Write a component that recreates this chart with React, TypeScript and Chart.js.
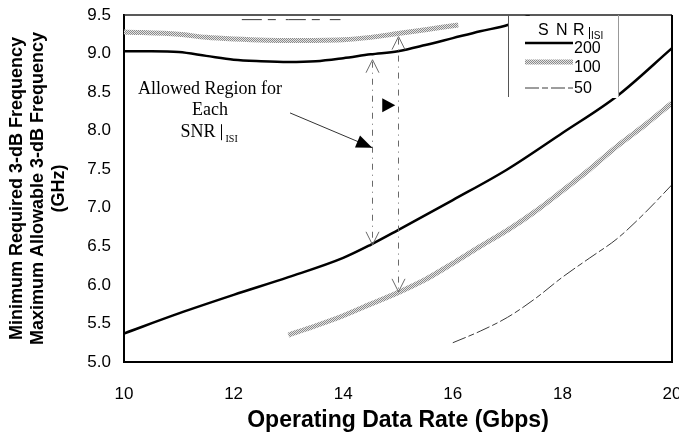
import React, { useEffect, useRef } from 'react';
import { Chart, registerables } from 'chart.js';

Chart.register(...registerables);

const SANS = '"Liberation Sans", Arial, sans-serif';
const SERIF = '"Liberation Serif", "Times New Roman", serif';

// Axis ranges / ticks
const X_MIN = 10;
const X_MAX = 20;
const Y_MIN = 5.0;
const Y_MAX = 9.5;
const X_STEP = 2;
const Y_STEP = 0.5;

// SNR|ISI = 200 (black solid)
const max200X = [10, 10.5, 11, 11.5, 12, 12.5, 13, 13.5, 14, 14.5, 15, 15.5, 16, 16.5, 17, 17.4];
const max200Y = [9.03, 9.03, 9.02, 8.97, 8.92, 8.9, 8.89, 8.9, 8.94, 8.99, 9.03, 9.11, 9.2, 9.29, 9.37, 9.5];
const min200X = [10, 11, 12, 13, 14, 14.5, 15, 16, 17, 18, 19, 20];
const min200Y = [5.37, 5.63, 5.87, 6.1, 6.35, 6.52, 6.71, 7.1, 7.5, 7.97, 8.45, 9.07];

// SNR|ISI = 100 (grey textured)
const max100X = [10, 11, 11.5, 12, 13, 14, 14.5, 15, 15.5, 16.1];
const max100Y = [9.28, 9.25, 9.21, 9.19, 9.17, 9.18, 9.21, 9.26, 9.31, 9.37];
const min100X = [13, 13.5, 14, 14.5, 15, 15.5, 16, 16.5, 17, 17.5, 18, 18.5, 19, 19.5, 20];
const min100Y = [5.35, 5.47, 5.6, 5.75, 5.9, 6.07, 6.28, 6.5, 6.71, 6.95, 7.22, 7.5, 7.8, 8.07, 8.36];

// SNR|ISI = 50 (thin dash)
const max50X = [12.15, 13, 13.95];
const max50Y = [9.44, 9.44, 9.44];
const min50X = [16, 16.5, 17, 17.5, 18, 18.5, 19, 19.5, 20];
const min50Y = [5.25, 5.4, 5.58, 5.82, 6.1, 6.35, 6.6, 6.93, 7.3];

const legendLabels = ['200', '100', '50'];

// Annotation anchors (data coordinates)
const arrow200 = { x: 14.53, top: 8.92, bottom: 6.52 };
const arrow100 = { x: 15.0, top: 9.22, bottom: 5.91 };
const noteLines = ['Allowed Region for', 'Each', 'SNR'];
const noteAnchor = { x: 11.57, y: [8.54, 8.26, 7.98] };
const pointerFrom = { x: 13.03, y: 8.23 };
const pointerTo = { x: 14.53, y: 7.78 };
const pointer2Tip = { x: 14.95, y: 8.33 };

const pts = (xs: number[], ys: number[]) => xs.map((x, i) => ({ x, y: ys[i] }));

function makePattern(): CanvasPattern | string {
  const c = document.createElement('canvas');
  c.width = 2;
  c.height = 2;
  const g = c.getContext('2d');
  if (!g) return '#aaa';
  g.fillStyle = '#e4e4e4';
  g.fillRect(0, 0, 2, 2);
  g.fillStyle = '#8a8a8a';
  g.fillRect(0, 0, 1, 1);
  g.fillRect(1, 1, 1, 1);
  return g.createPattern(c, 'repeat') || '#aaa';
}

const DASH50 = [14, 3, 6, 3];
const ARROW_DASH = [6, 5, 1, 5];

function openHead(ctx: CanvasRenderingContext2D, x: number, y: number, dir: number) {
  ctx.beginPath();
  ctx.moveTo(x - 6.5, y + dir * 13);
  ctx.lineTo(x, y);
  ctx.lineTo(x + 6.5, y + dir * 13);
  ctx.stroke();
}

function filledHead(ctx: CanvasRenderingContext2D, tx: number, ty: number, dx: number, dy: number, len: number, half: number) {
  const l = Math.hypot(dx, dy);
  const ux = dx / l;
  const uy = dy / l;
  const bx = tx - ux * len;
  const by = ty - uy * len;
  ctx.beginPath();
  ctx.moveTo(tx, ty);
  ctx.lineTo(bx - uy * half, by + ux * half);
  ctx.lineTo(bx + uy * half, by - ux * half);
  ctx.closePath();
  ctx.fill();
}

const overlayPlugin = {
  id: 'overlay',
  afterDatasetsDraw(chart: any) {
    const ctx: CanvasRenderingContext2D = chart.ctx;
    const xs = chart.scales.x;
    const ys = chart.scales.y;
    const ca = chart.chartArea;
    const px = (v: number) => xs.getPixelForValue(v);
    const py = (v: number) => ys.getPixelForValue(v);
    ctx.save();

    // frame top & right
    ctx.strokeStyle = '#222';
    ctx.lineWidth = 1.5;
    ctx.beginPath();
    ctx.moveTo(ca.left, ca.top);
    ctx.lineTo(ca.right, ca.top);
    ctx.stroke();
    ctx.lineWidth = 2;
    ctx.strokeStyle = '#000';
    ctx.beginPath();
    ctx.moveTo(ca.right, ca.top);
    ctx.lineTo(ca.right, ca.bottom + 1);
    ctx.stroke();

    // double arrows
    ctx.strokeStyle = '#6a6a6a';
    ctx.lineWidth = 1;
    [arrow200, arrow100].forEach((a) => {
      const x = Math.round(px(a.x)) + 0.5;
      const yt = py(a.top);
      const yb = py(a.bottom);
      ctx.setLineDash(ARROW_DASH);
      ctx.beginPath();
      ctx.moveTo(x, yt + 2);
      ctx.lineTo(x, yb - 2);
      ctx.stroke();
      ctx.setLineDash([]);
      openHead(ctx, x, yt, 1);
      openHead(ctx, x, yb, -1);
    });

    // pointer arrow
    const fx = px(pointerFrom.x);
    const fy = py(pointerFrom.y);
    const tx = px(pointerTo.x);
    const ty = py(pointerTo.y);
    ctx.strokeStyle = '#333';
    ctx.lineWidth = 1;
    ctx.beginPath();
    ctx.moveTo(fx, fy);
    ctx.lineTo(tx, ty);
    ctx.stroke();
    ctx.fillStyle = '#000';
    filledHead(ctx, tx, ty, tx - fx, ty - fy, 16, 6.5);
    filledHead(ctx, px(pointer2Tip.x), py(pointer2Tip.y), 1, 0, 13, 7);

    // note text
    ctx.fillStyle = '#000';
    ctx.font = `18px ${SERIF}`;
    ctx.textAlign = 'center';
    ctx.textBaseline = 'middle';
    const cx = px(noteAnchor.x);
    ctx.fillText(noteLines[0], cx, py(noteAnchor.y[0]));
    ctx.fillText(noteLines[1], cx, py(noteAnchor.y[1]));
    const y3 = py(noteAnchor.y[2]);
    ctx.textAlign = 'left';
    const snrW = ctx.measureText(noteLines[2]).width;
    const sx = cx - 14 - snrW / 2 + 2;
    ctx.fillText(noteLines[2], sx, y3);
    ctx.strokeStyle = '#000';
    ctx.lineWidth = 1;
    ctx.beginPath();
    ctx.moveTo(Math.round(sx + snrW + 5) + 0.5, y3 - 8);
    ctx.lineTo(Math.round(sx + snrW + 5) + 0.5, y3 + 8);
    ctx.stroke();
    ctx.font = `10px ${SERIF}`;
    ctx.fillText('ISI', sx + snrW + 10, y3 + 7);

    // legend box
    const lx = ca.right - 164;
    const lw = 110;
    const lt = ca.top;
    const lh = 82;
    ctx.fillStyle = '#fff';
    ctx.fillRect(lx, lt + 1, lw, lh);
    ctx.strokeStyle = '#555';
    ctx.lineWidth = 1;
    ctx.beginPath();
    ctx.moveTo(lx + 0.5, lt);
    ctx.lineTo(lx + 0.5, lt + lh);
    ctx.stroke();
    ctx.strokeStyle = '#999';
    ctx.beginPath();
    ctx.moveTo(lx + lw + 0.5, lt);
    ctx.lineTo(lx + lw + 0.5, lt + lh);
    ctx.stroke();

    ctx.fillStyle = '#000';
    ctx.font = `16px ${SANS}`;
    ctx.textBaseline = 'middle';
    ctx.textAlign = 'left';
    ctx.fillText('S', lx + 30, lt + 16);
    ctx.fillText('N', lx + 48, lt + 16);
    ctx.fillText('R', lx + 65, lt + 16);
    ctx.strokeStyle = '#000';
    ctx.beginPath();
    ctx.moveTo(lx + 81.5, lt + 12);
    ctx.lineTo(lx + 81.5, lt + 24);
    ctx.stroke();
    ctx.font = `10px ${SANS}`;
    ctx.fillText('ISI', lx + 83, lt + 21);

    const sampleX0 = lx + 17;
    const sampleX1 = lx + 65;
    const rows = [28, 47, 73];
    const labelRows = [34, 53, 74];
    const styles = chart.data.datasets;
    for (let i = 0; i < 3; i++) {
      const ds = styles[i * 2 + 1];
      ctx.strokeStyle = ds.borderColor;
      ctx.lineWidth = ds.borderWidth;
      ctx.setLineDash(ds.borderDash || []);
      ctx.beginPath();
      ctx.moveTo(sampleX0, lt + rows[i]);
      ctx.lineTo(sampleX1, lt + rows[i]);
      ctx.stroke();
      ctx.setLineDash([]);
      ctx.fillStyle = '#000';
      ctx.font = `16px ${SANS}`;
      ctx.fillText(legendLabels[i], lx + 66, lt + labelRows[i]);
    }
    ctx.restore();
  },
};

export default function App() {
  const ref = useRef<HTMLCanvasElement | null>(null);
  useEffect(() => {
    if (!ref.current) return;
    const pattern = makePattern();
    const black = { borderColor: '#000', borderWidth: 2.5, borderDash: [] as number[] };
    const grey = { borderColor: pattern, borderWidth: 5, borderDash: [] as number[] };
    const thin = { borderColor: '#3a3a3a', borderWidth: 1, borderDash: DASH50 };
    const mk = (data: any, st: any) => ({
      data,
      ...st,
      pointRadius: 0,
      fill: false,
      cubicInterpolationMode: 'monotone',
      clip: 0,
    });
    const chart = new Chart(ref.current, {
      type: 'line',
      data: {
        datasets: [
          mk(pts(max200X, max200Y), black),
          mk(pts(min200X, min200Y), black),
          mk(pts(max100X, max100Y), grey),
          mk(pts(min100X, min100Y), grey),
          mk(pts(max50X, max50Y), { ...thin, borderDash: [20, 6, 8, 10] }),
          mk(pts(min50X, min50Y), thin),
        ] as any,
      },
      options: {
        animation: false,
        responsive: false,
        layout: { padding: { top: 15, right: 7, left: 0, bottom: 0 } },
        plugins: { legend: { display: false }, tooltip: { enabled: false } },
        scales: {
          x: {
            type: 'linear',
            min: X_MIN,
            max: X_MAX,
            grid: { display: false, drawTicks: false },
            border: { display: true, color: '#000', width: 2 },
            ticks: {
              stepSize: X_STEP,
              padding: 22,
              color: '#000',
              font: { family: SANS, size: 17 },
              maxRotation: 0,
            },
            title: {
              display: true,
              text: 'Operating Data Rate (Gbps)',
              color: '#000',
              font: { family: SANS, size: 23, weight: 'bold' },
              padding: { top: 0, bottom: 0 },
            },
            afterFit: (s: any) => {
              s.height = 72;
              s.paddingLeft = 0;
              s.paddingRight = 0;
            },
          },
          y: {
            type: 'linear',
            min: Y_MIN,
            max: Y_MAX,
            grid: { display: false, drawTicks: false },
            border: { display: true, color: '#000', width: 2 },
            ticks: {
              stepSize: Y_STEP,
              padding: 13,
              color: '#000',
              font: { family: SANS, size: 17 },
              callback: (v: any) => Number(v).toFixed(1),
            },
            title: {
              display: true,
              text: ['Minimum Required 3-dB Frequency', 'Maximum Allowable 3-dB Frequency', '(GHz)'],
              color: '#000',
              font: { family: SANS, size: 18, weight: 'bold', lineHeight: 1.15 },
              padding: { top: 7, bottom: 0 },
            },
            afterFit: (s: any) => {
              s.width = 124;
              s.paddingTop = 0;
              s.paddingBottom = 0;
            },
          },
        },
      },
      plugins: [overlayPlugin],
    } as any);
    return () => chart.destroy();
  }, []);
  return (
    <div style={{ position: 'fixed', left: 0, top: 0, width: 679, height: 434, background: '#fff' }}>
      <canvas ref={ref} width={679} height={434} />
    </div>
  );
}
